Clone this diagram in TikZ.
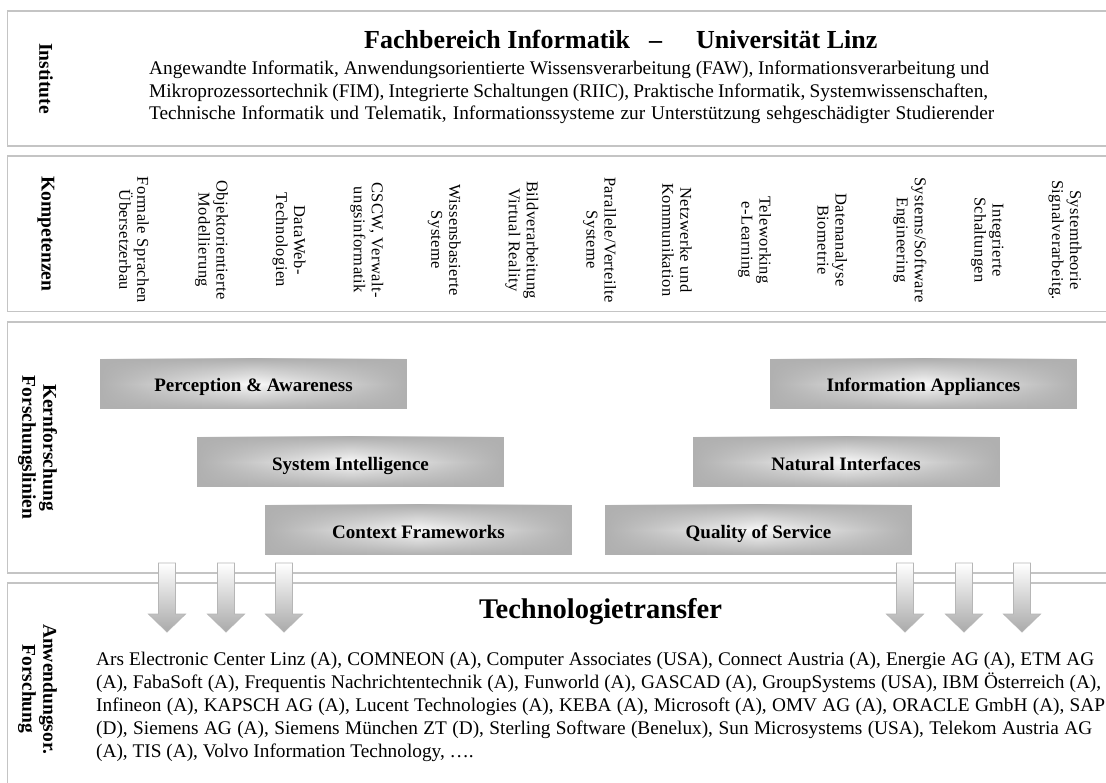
\documentclass[tikz,border=0pt]{standalone}
\usepackage{fontspec}
\setmainfont{Liberation Serif}
\newfontfamily\colfont[LetterSpace=2.5]{Liberation Serif}
\usetikzlibrary{fadings}

\definecolor{panelgray}{RGB}{196,196,196}
\definecolor{boxgray}{RGB}{176,176,176}
\definecolor{boxlight}{RGB}{250,250,250}
\definecolor{arrowline}{RGB}{182,182,182}
\definecolor{arrowdark}{RGB}{170,170,170}

% light band in the middle of the research boxes, fading towards left and right
\tikzfading[name=hfade, left color=transparent!100, right color=transparent!100, middle color=transparent!0]

\begin{document}
\begin{tikzpicture}[x=1pt,y=-1pt,
  panel/.style={draw=panelgray, line width=1.4pt},
  sidelabel/.style={rotate=-90, align=center, inner sep=0pt,
    font=\bfseries\fontsize{19.5}{21}\selectfont},
  competence/.style={rotate=-90, align=center, inner sep=0pt,
    font=\colfont\fontsize{16.5}{18}\selectfont},
  bodyline/.style={anchor=base west, inner sep=0pt,
    font=\fontsize{19.3}{23}\selectfont},
  researchline/.style={minimum width=307pt, minimum height=50pt, inner sep=0pt,
    text height=16pt, text depth=0pt,
    preaction={fill=boxgray}, top color=boxgray, bottom color=boxgray,
    middle color=boxlight, path fading=hfade,
    font=\bfseries\fontsize{19}{22}\selectfont},
  transferarrow/.style={draw=arrowline, line width=0.8pt,
    top color=white, bottom color=arrowdark}
]
\useasboundingbox (0,0) rectangle (1106,783);
\fill[white] (0,0) rectangle (1106,783);

% the four horizontal bands
\draw[panel] (7.5,11) rectangle (1140,146);
\draw[panel] (7.5,156) rectangle (1140,311.5);
\draw[panel] (7.5,322) rectangle (1140,573);
\draw[panel] (7.5,583) rectangle (1140,810);

% band labels
\node[sidelabel] (lblinst) at (46,78.5) {Institute};
\node[sidelabel] (lblkomp) at (46,234) {Kompetenzen};
\node[sidelabel] (lblkern) at (37.5,447.5) {Kernforschung\\Forschungslinien};
\node[sidelabel] (lblanw) at (37.5,689) {Anwendungsor.\\Forschung};

% institutes
\node[anchor=base west, inner sep=0pt, font=\bfseries\fontsize{26}{30}\selectfont] (title) at (364,49)
  {Fachbereich Informatik\hspace{19pt}–\hspace{34pt}Universität Linz};
\node[bodyline] (inst1) at (149,75) {\makebox[840pt][s]{Angewandte Informatik, Anwendungsorientierte Wissensverarbeitung (FAW), Informationsverarbeitung und}};
\node[bodyline] (inst2) at (149,97.5) {\makebox[839pt][s]{Mikroprozessortechnik (FIM), Integrierte Schaltungen (RIIC), Praktische Informatik, Systemwissenschaften,}};
\node[bodyline] (inst3) at (149,120) {\makebox[845pt][s]{Technische Informatik und Telematik, Informationssysteme zur Unterstützung sehgeschädigter Studierender}};

% competences
\foreach \t [count=\i from 0] in {
  {Formale Sprachen\\Übersetzerbau},
  {Objektorientierte\\Modellierung},
  {DataWeb-\\Technologien},
  {CSCW, Verwalt-\\ungsinformatik},
  {Wissensbasierte\\Systeme},
  {Bildverarbeitung\\Virtual Reality},
  {Parallele/Verteilte\\Systeme},
  {Netzwerke und\\Kommunikation},
  {Teleworking\\e-Learning},
  {Datenanalyse\\Biometrie},
  {Systems/Software\\Engineering},
  {Integrierte\\Schaltungen},
  {Systemtheorie\\Signalverarbeitg.}}
  \node[competence] (comp\i) at ({134+77.58*\i},240) {\t};

% core research lines
\node[researchline] (pa) at (253.5,384) {Perception \& Awareness};
\node[researchline] (si) at (350.5,462) {System Intelligence};
\node[researchline] (cf) at (418.5,530) {Context Frameworks};
\node[researchline] (ia) at (923.5,384) {Information Appliances};
\node[researchline] (ni) at (846,462) {Natural Interfaces};
\node[researchline] (qs) at (758.5,530) {Quality of Service};

% transfer arrows crossing into the application band
\foreach \ax in {167,226,284,905,964,1022}
  \shade[transferarrow] (\ax-8.5,563) -- (\ax+8.5,563) -- (\ax+8.5,614) -- (\ax+18.5,614)
    -- (\ax,632) -- (\ax-18.5,614) -- (\ax-8.5,614) -- cycle;

% applied research
\node[anchor=base west, inner sep=0pt, font=\bfseries\fontsize{28.5}{32}\selectfont] (transfer) at (479,618) {Technologietransfer};
\node[bodyline] (firm1) at (96,665) {\makebox[998pt][s]{Ars Electronic Center Linz (A), COMNEON (A), Computer Associates (USA), Connect Austria (A), Energie AG (A), ETM AG}};
\node[bodyline] (firm2) at (96,688.2) {\makebox[1005pt][s]{(A), FabaSoft (A), Frequentis Nachrichtentechnik (A), Funworld (A), GASCAD (A), GroupSystems (USA), IBM Österreich (A),}};
\node[bodyline] (firm3) at (96,711.4) {\makebox[1009pt][s]{Infineon (A), KAPSCH AG (A), Lucent Technologies (A), KEBA (A), Microsoft (A), OMV AG (A), ORACLE GmbH (A), SAP}};
\node[bodyline] (firm4) at (96,734.6) {\makebox[996pt][s]{(D), Siemens AG (A), Siemens München ZT (D), Sterling Software (Benelux), Sun Microsystems (USA), Telekom Austria AG}};
\node[bodyline] (firm5) at (96,757.8) {(A), TIS (A), Volvo Information Technology, ….};
\end{tikzpicture}
\end{document}
